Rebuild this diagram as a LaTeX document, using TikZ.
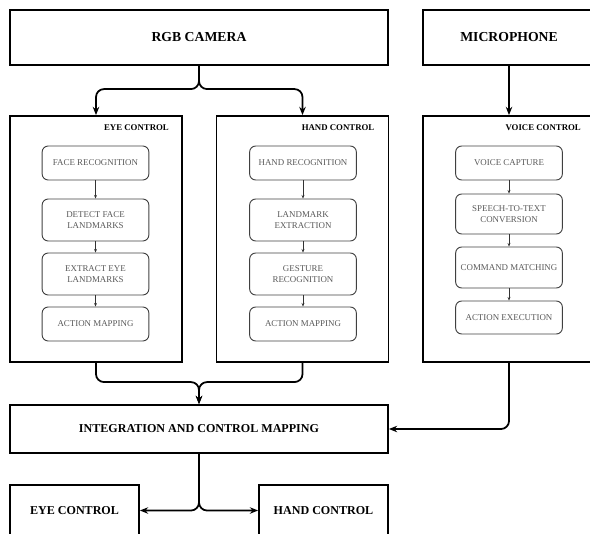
\documentclass[tikz,border=0pt]{standalone}
\usepackage{fontspec}
\setmainfont{Liberation Serif}
\usetikzlibrary{arrows.meta}

\begin{document}
\begin{tikzpicture}[x=0.03cm, y=-0.03cm,
    block/.style={draw, line width=1.6pt, font=\bfseries\fontsize{11.7}{14}\selectfont},
    lowblock/.style={draw, line width=1.6pt, font=\bfseries\fontsize{10.3}{12}\selectfont},
    panel/.style={draw, line width=1.6pt, minimum width=5.16cm, minimum height=7.38cm},
    tag/.style={anchor=east, font=\bfseries\fontsize{7.5}{9}\selectfont},
    stage/.style={draw=black!75, rounded corners=0.18cm, line width=0.8pt, minimum width=3.2cm,
                  text=black!65, align=center, font=\fontsize{7.6}{10}\selectfont},
    link/.style={-{Stealth[length=7pt,width=5.5pt]}, line width=1.5pt, rounded corners=0.24cm},
    flow/.style={-{Stealth[length=3pt,width=2.5pt]}, line width=0.6pt, black!80}]

    % Frame of the picture (boxes on the right and at the bottom are cut off)
    \useasboundingbox (0,0) rectangle (590,533);
    \clip (0,0) rectangle (590,533);

    % Input devices
    \node[block, minimum width=11.34cm, minimum height=1.65cm] (cam) at (199,37.5) {RGB CAMERA};
    \node[block, minimum width=5.16cm, minimum height=1.65cm] (mic) at (509,37.5) {MICROPHONE};

    % Control panels
    \node[panel] (eyebox) at (96,239) {};
    \node[panel] (handbox) at (302.5,239) {};
    \node[panel] (voicebox) at (509,239) {};
    \node[tag] (eyetag) at ([xshift=-0.3cm,yshift=-0.39cm]eyebox.north east) {EYE CONTROL};
    \node[tag] (handtag) at ([xshift=-0.33cm,yshift=-0.39cm]handbox.north east) {HAND CONTROL};
    \node[tag] (voicetag) at ([xshift=-0.33cm,yshift=-0.39cm]voicebox.north east) {VOICE CONTROL};

    % Eye control stages
    \node[stage, minimum height=1.02cm] (eye1) at (95.5,163) {FACE RECOGNITION};
    \node[stage, minimum height=1.26cm] (eye2) at (95.5,220) {DETECT FACE\\LANDMARKS};
    \node[stage, minimum height=1.26cm] (eye3) at (95.5,274) {EXTRACT EYE\\LANDMARKS};
    \node[stage, minimum height=1.02cm] (eye4) at (95.5,324) {ACTION MAPPING};

    % Hand control stages
    \node[stage, minimum height=1.02cm] (hand1) at (303,163) {HAND RECOGNITION};
    \node[stage, minimum height=1.26cm] (hand2) at (303,220) {LANDMARK\\EXTRACTION};
    \node[stage, minimum height=1.26cm] (hand3) at (303,274) {GESTURE\\RECOGNITION};
    \node[stage, minimum height=1.02cm] (hand4) at (303,324) {ACTION MAPPING};

    % Voice control stages
    \node[stage, minimum height=1.02cm] (voice1) at (509,163) {VOICE CAPTURE};
    \node[stage, minimum height=1.2cm] (voice2) at (509,214) {SPEECH-TO-TEXT\\CONVERSION};
    \node[stage, minimum height=1.23cm] (voice3) at (509,267.5) {COMMAND MATCHING};
    \node[stage, minimum height=0.99cm] (voice4) at (509,317.5) {ACTION EXECUTION};

    % Integration and outputs
    \node[lowblock, minimum width=11.34cm, minimum height=1.44cm] (integ) at (199,429) {INTEGRATION AND CONTROL MAPPING};
    \node[lowblock, minimum width=3.87cm, minimum height=1.53cm] (outeye) at (74.5,510.5) {EYE CONTROL};
    \node[lowblock, minimum width=3.87cm, minimum height=1.53cm] (outhand) at (323.5,510.5) {HAND CONTROL};

    % Arrows inside the panels
    \draw[flow] (eye1) -- (eye2);
    \draw[flow] (eye2) -- (eye3);
    \draw[flow] (eye3) -- (eye4);
    \draw[flow] (hand1) -- (hand2);
    \draw[flow] (hand2) -- (hand3);
    \draw[flow] (hand3) -- (hand4);
    \draw[flow] (voice1) -- (voice2);
    \draw[flow] (voice2) -- (voice3);
    \draw[flow] (voice3) -- (voice4);

    % Camera splits to eye and hand control
    \draw[link] (cam.south) |- ([yshift=0.78cm]eyebox.north) -- (eyebox.north);
    \draw[link] (cam.south) |- ([yshift=0.78cm]handbox.north) -- (handbox.north);
    \draw[link] (mic.south) -- (voicebox.north);

    % Panels merge into integration
    \draw[link] (eyebox.south) |- ([yshift=0.66cm]integ.north) -- (integ.north);
    \draw[link] (handbox.south) |- ([yshift=0.66cm]integ.north) -- (integ.north);
    \draw[link] (voicebox.south) |- (integ.east);

    % Integration splits to outputs
    \draw[link] (integ.south) |- (outeye.east);
    \draw[link] (integ.south) |- (outhand.west);
\end{tikzpicture}
\end{document}
